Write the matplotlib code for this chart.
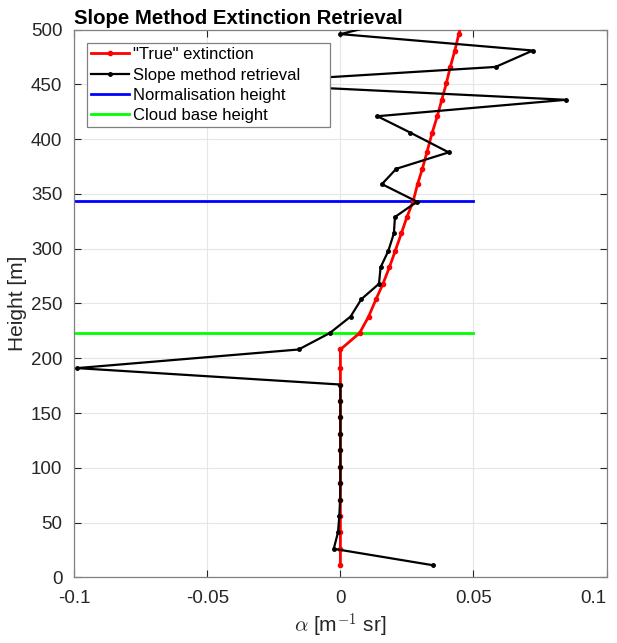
import matplotlib.pyplot as plt

# --- Data ---
heights = [11, 26, 41, 56, 71, 86, 101, 116, 131, 146, 161, 176, 191, 208,
           223, 238, 254, 268, 283, 298, 314, 329, 343, 359, 373, 388, 406,
           421, 436, 451, 466, 481, 496, 511]

true_ext = [0, 0, 0, 0, 0, 0, 0, 0, 0, 0, 0, 0, 0, 0,
            0.0072, 0.0106, 0.0134, 0.0160, 0.0184, 0.0206, 0.0229, 0.0250,
            0.0273, 0.0290, 0.0308, 0.0325, 0.0345, 0.0364, 0.0381, 0.0398,
            0.0413, 0.0430, 0.0445, 0.0460]

slope_ext = [0.0348, -0.0025, -0.0009, -0.0004, -0.0001, 0, 0, 0, 0, 0, 0, 0,
             -0.099, -0.0157, -0.0040, 0.0038, 0.0079, 0.0145, 0.0151, 0.0180,
             0.0201, 0.0205, 0.0288, 0.0156, 0.0210, 0.0407, 0.0263, 0.0139,
             0.0848, -0.0420, 0.0583, 0.0723, 0.0, 0.0255]

norm_height = 343.3
cloud_base = 223.3
hline_x = [-0.1, 0.05]

xticks = [-0.1, -0.05, 0, 0.05, 0.1]
xtick_labels = ['-0.1', '-0.05', '0', '0.05', '0.1']
yticks = list(range(0, 501, 50))

plt.rcParams['font.family'] = ['Liberation Sans', 'DejaVu Sans']
plt.rcParams['axes.unicode_minus'] = False
plt.rcParams['mathtext.fontset'] = 'cm'

fig = plt.figure(figsize=(6.17, 6.43), dpi=100)
ax = fig.add_axes([0.1204, 0.1022, 0.983 - 0.1204, 0.9538 - 0.1022])

ax.plot(true_ext, heights, color='red', marker='.', markersize=6, linewidth=2,
        label='"True" extinction', zorder=3)
ax.plot(slope_ext, heights, color='black', marker='.', markersize=5, linewidth=1.6,
        label='Slope method retrieval', zorder=4)
ax.plot(hline_x, [norm_height, norm_height], color='blue', linewidth=2,
        label='Normalisation height', zorder=2)
ax.plot(hline_x, [cloud_base, cloud_base], color='#00ff00', linewidth=2,
        label='Cloud base height', zorder=2)

ax.set_xlim(-0.1, 0.1)
ax.set_ylim(0, 500)
ax.set_xticks(xticks)
ax.set_xticklabels(xtick_labels)
ax.set_yticks(yticks)
ax.tick_params(direction='in', top=True, right=True, labelsize=13.5,
               colors='#262626', length=5, width=0.8)
ax.tick_params(axis='x', pad=8.8)
ax.tick_params(axis='y', pad=8.5)
# last label sits flush with the right edge, as in the original export
ax.get_xticklabels()[-1].set_horizontalalignment('right')
ax.grid(True, color='#e6e6e6', linewidth=0.8)
ax.set_axisbelow(True)
for s in ax.spines.values():
    s.set_color('#808080')
    s.set_linewidth(0.9)

ax.set_xlabel(r'$\alpha$ [m$^{-1}$ sr]', fontsize=15, color='#262626', labelpad=4)
ax.set_ylabel('Height [m]', fontsize=15, color='#262626', labelpad=3)
ax.set_title('Slope Method Extinction Retrieval', fontsize=14.7, fontweight='bold',
             loc='left', pad=4)

leg = ax.legend(loc='upper left', bbox_to_anchor=(0.0233, 0.9755, 0.457, 0.0),
                mode='expand', fontsize=12, frameon=True, fancybox=False,
                framealpha=1, edgecolor='#808080',
                handlelength=2.3, handletextpad=0.25, borderpad=0.25,
                labelspacing=0.32, borderaxespad=0)
leg.get_frame().set_linewidth(0.9)

fig.savefig('out.png', dpi=100)
